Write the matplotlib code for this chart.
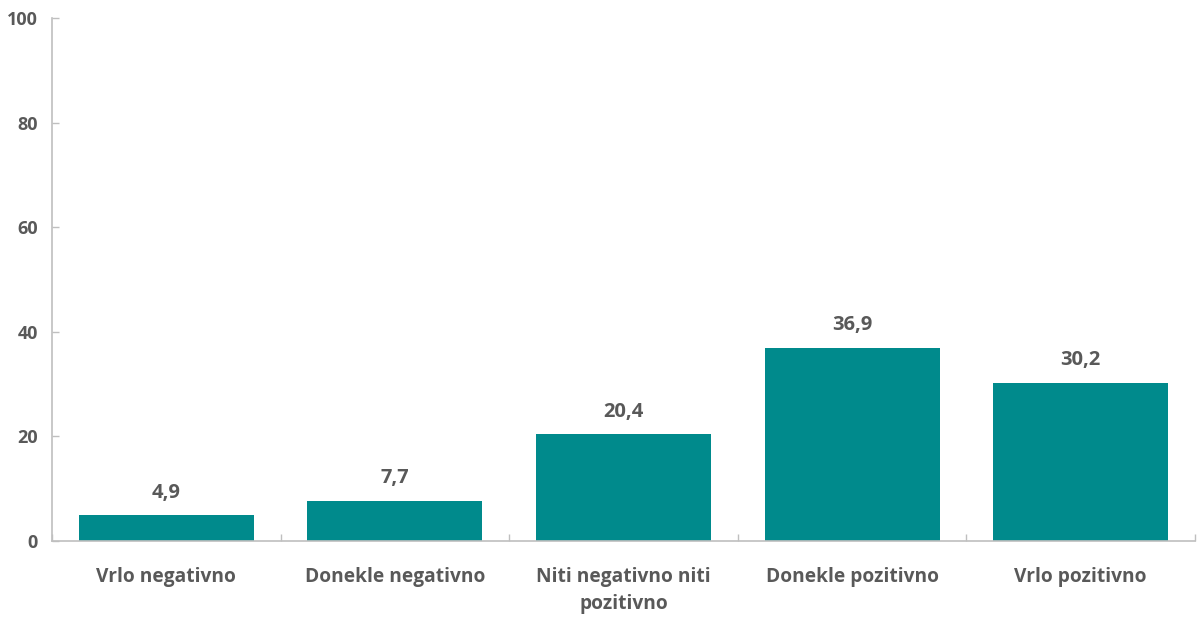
import numpy as np
import matplotlib.pyplot as plt

categories = ["Vrlo negativno", "Donekle negativno", "Niti negativno niti\npozitivno",
              "Donekle pozitivno", "Vrlo pozitivno"]
values = [4.9, 7.7, 20.4, 36.9, 30.2]
yticks = [0, 20, 40, 60, 80, 100]

bar_color = "#008A8C"
text_color = "#595959"
axis_color = "#BFBFBF"

plt.rcParams['font.family'] = ['Open Sans', 'DejaVu Sans']

fig = plt.figure(figsize=(12.01, 6.17), dpi=100)
ax = fig.add_axes([0.0433, 0.1232, 0.9517, 0.8476])

x = np.arange(len(categories))
bars = ax.bar(x, values, width=0.766, color=bar_color)

for xi, v in zip(x, values):
    ax.text(xi, v + 2.4, f"{v:.1f}".replace(".", ","), ha="center", va="bottom",
            fontsize=14.5, fontweight="bold", color=text_color)

ax.set_xlim(-0.5, len(categories) - 0.5)
ax.set_ylim(0, 100)
ax.set_yticks(yticks)
ax.set_yticklabels([str(t) for t in yticks], fontsize=13, fontweight="bold", color=text_color)

# category labels, tick marks between the categories
ax.set_xticks(x)
ax.set_xticklabels(categories, fontsize=13.8, fontweight="bold", color=text_color,
                   linespacing=1.45)
ax.tick_params(axis="x", length=0, pad=19)
ax.set_xticks(np.arange(len(categories) + 1) - 0.5, minor=True)
ax.tick_params(axis="x", which="minor", direction="in", length=5, color=axis_color, width=1)
ax.tick_params(axis="y", direction="in", length=5, color=axis_color, width=1, pad=10)

for side in ["top", "right"]:
    ax.spines[side].set_visible(False)
for side in ["left", "bottom"]:
    ax.spines[side].set_color(axis_color)
    ax.spines[side].set_linewidth(1.2)

fig.savefig("out.png", dpi=100)
